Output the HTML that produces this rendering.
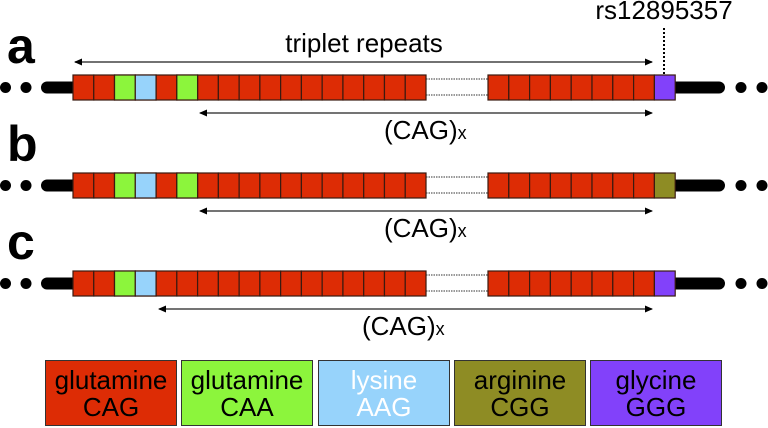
<!DOCTYPE html>
<html><head><meta charset="utf-8"><style>
html,body{margin:0;padding:0;background:#fff;}
svg{display:block;}
text{font-family:"Liberation Sans",Arial,sans-serif;}
</style></head><body>
<svg width="768" height="428" viewBox="0 0 768 428" xmlns="http://www.w3.org/2000/svg">
<defs>
<marker id="ah" markerWidth="8" markerHeight="8" refX="7" refY="4" orient="auto-start-reverse" markerUnits="userSpaceOnUse">
<path d="M0,0.5 L8,4 L0,7.5 z" fill="#000"/>
</marker>
<g id="row">
<circle cx="5.5" cy="12.5" r="5.5" fill="#000"/>
<circle cx="26" cy="12.5" r="5.5" fill="#000"/>
<line x1="47" y1="12.5" x2="73" y2="12.5" stroke="#000" stroke-width="12" stroke-linecap="round"/>
<line x1="675" y1="12.5" x2="719" y2="12.5" stroke="#000" stroke-width="12" stroke-linecap="round"/>
<circle cx="741" cy="12.5" r="5.5" fill="#000"/>
<circle cx="762" cy="12.5" r="5.5" fill="#000"/>
<g fill="#dd2c05" stroke="#3a1a10" stroke-width="1.2">
<rect x="73" y="0" width="20.77" height="25"/>
<rect x="93.76" y="0" width="20.77" height="25"/>
<rect x="114.53" y="0" width="20.77" height="25"/>
<rect x="135.29" y="0" width="20.77" height="25"/>
<rect x="156.06" y="0" width="20.77" height="25"/>
<rect x="176.82" y="0" width="20.77" height="25"/>
<rect x="197.59" y="0" width="20.77" height="25"/>
<rect x="218.35" y="0" width="20.77" height="25"/>
<rect x="239.12" y="0" width="20.77" height="25"/>
<rect x="259.88" y="0" width="20.77" height="25"/>
<rect x="280.65" y="0" width="20.77" height="25"/>
<rect x="301.41" y="0" width="20.77" height="25"/>
<rect x="322.18" y="0" width="20.77" height="25"/>
<rect x="342.94" y="0" width="20.77" height="25"/>
<rect x="363.71" y="0" width="20.77" height="25"/>
<rect x="384.47" y="0" width="20.77" height="25"/>
<rect x="405.24" y="0" width="20.77" height="25"/>
<rect x="488" y="0" width="20.8" height="25"/>
<rect x="508.8" y="0" width="20.8" height="25"/>
<rect x="529.6" y="0" width="20.8" height="25"/>
<rect x="550.4" y="0" width="20.8" height="25"/>
<rect x="571.2" y="0" width="20.8" height="25"/>
<rect x="592" y="0" width="20.8" height="25"/>
<rect x="612.8" y="0" width="20.8" height="25"/>
<rect x="633.6" y="0" width="20.8" height="25"/>
</g>
<line x1="426" y1="4" x2="488" y2="4" stroke="#333" stroke-width="1" stroke-dasharray="1.5,1"/>
<line x1="426" y1="20" x2="488" y2="20" stroke="#333" stroke-width="1" stroke-dasharray="1.5,1"/>
</g>
</defs>

<use href="#row" transform="translate(0,75)"/>
<use href="#row" transform="translate(0,173)"/>
<use href="#row" transform="translate(0,271)"/>

<g stroke="#3a1a10" stroke-width="1.2">
<rect x="114.53" y="75" width="20.77" height="25" fill="#8cf53c"/>
<rect x="135.29" y="75" width="20.77" height="25" fill="#97d3fb"/>
<rect x="176.82" y="75" width="20.77" height="25" fill="#8cf53c"/>
<rect x="654.4" y="75" width="20.8" height="25" fill="#8241fa"/>
<rect x="114.53" y="173" width="20.77" height="25" fill="#8cf53c"/>
<rect x="135.29" y="173" width="20.77" height="25" fill="#97d3fb"/>
<rect x="176.82" y="173" width="20.77" height="25" fill="#8cf53c"/>
<rect x="654.4" y="173" width="20.8" height="25" fill="#8e8c24"/>
<rect x="114.53" y="271" width="20.77" height="25" fill="#8cf53c"/>
<rect x="135.29" y="271" width="20.77" height="25" fill="#97d3fb"/>
<rect x="654.4" y="271" width="20.8" height="25" fill="#8241fa"/>
</g>

<text x="7" y="63" font-size="50" font-weight="bold">a</text>
<text x="7" y="161" font-size="50" font-weight="bold">b</text>
<text x="7" y="259" font-size="50" font-weight="bold">c</text>
<text x="364" y="52" font-size="26" text-anchor="middle">triplet repeats</text>
<text x="664" y="19" font-size="26" text-anchor="middle">rs12895357</text>
<line x1="664" y1="28" x2="664" y2="75" stroke="#000" stroke-width="2" stroke-dasharray="2,2"/>
<line x1="75" y1="62" x2="652" y2="62" stroke="#444" stroke-width="1.5" marker-start="url(#ah)" marker-end="url(#ah)"/>
<line x1="200" y1="113" x2="652" y2="113" stroke="#222" stroke-width="1.2" marker-start="url(#ah)" marker-end="url(#ah)"/>
<line x1="200" y1="211" x2="652" y2="211" stroke="#222" stroke-width="1.2" marker-start="url(#ah)" marker-end="url(#ah)"/>
<line x1="159" y1="309" x2="652" y2="309" stroke="#222" stroke-width="1.2" marker-start="url(#ah)" marker-end="url(#ah)"/>
<text x="384" y="139" font-size="26">(CAG)<tspan font-size="18">x</tspan></text>
<text x="384" y="237" font-size="26">(CAG)<tspan font-size="18">x</tspan></text>
<text x="362" y="335" font-size="26">(CAG)<tspan font-size="18">x</tspan></text>

<g stroke="#333" stroke-width="1">
<rect x="45.5" y="360.5" width="131" height="65" fill="#dd2c05"/>
<rect x="181.5" y="360.5" width="131" height="65" fill="#8cf53c"/>
<rect x="318.5" y="360.5" width="131" height="65" fill="#97d3fb"/>
<rect x="454.5" y="360.5" width="131" height="65" fill="#8e8c24"/>
<rect x="590.5" y="360.5" width="131" height="65" fill="#8241fa"/>
</g>
<g font-size="26" text-anchor="middle">
<text x="111" y="389">glutamine</text><text x="111" y="416">CAG</text>
<text x="247" y="389">glutamine</text><text x="247" y="416">CAA</text>
<text x="384" y="389" fill="#fff">lysine</text><text x="384" y="416" fill="#fff">AAG</text>
<text x="520" y="389">arginine</text><text x="520" y="416">CGG</text>
<text x="656" y="389">glycine</text><text x="656" y="416">GGG</text>
</g>
</svg>
</body></html>
